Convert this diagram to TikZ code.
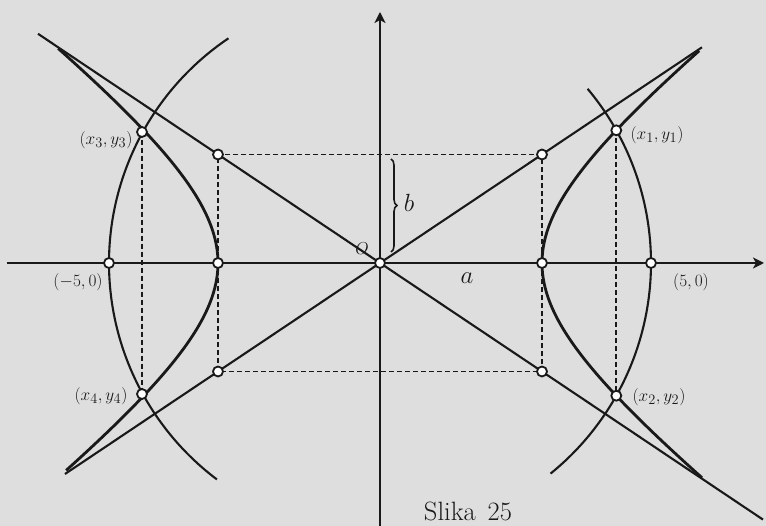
\documentclass[tikz,border=0pt]{standalone}
\usetikzlibrary{arrows.meta,decorations.pathreplacing}
\definecolor{paper}{RGB}{222,222,222}
\definecolor{ink}{RGB}{25,25,25}
\begin{document}
\begin{tikzpicture}[x=1pt,y=1pt,
  axis/.style={line width=2.8pt,draw=ink,-{Stealth[length=11pt,width=11pt,inset=3pt]}},
  branch/.style={line width=2.8pt,draw=ink},
  asym/.style={line width=2.1pt,draw=ink},
  arcl/.style={line width=2.1pt,draw=ink},
  guide/.style={line width=1.7pt,draw=ink,dash pattern=on 5pt off 3pt},
  dot/.style={circle,draw=ink,fill=white,line width=1.8pt,inner sep=0pt,minimum size=10pt},
  lab/.style={text=ink,font=\fontsize{19}{22}\selectfont},
  biglab/.style={text=ink,font=\fontsize{25}{28}\selectfont},
]
\fill[paper] (-380,-263) rectangle (386,263);
\useasboundingbox (-380,-263) rectangle (386,263);

% coordinates
\coordinate (O) at (0,0);
\coordinate (XL) at (-373,0);
\coordinate (XR) at (384,0);
\coordinate (YB) at (0,-263);
\coordinate (YT) at (0,251);
\coordinate (V1) at (162,0);
\coordinate (V2) at (-162,0);
\coordinate (F1) at (271,0);
\coordinate (F2) at (-271,0);
\coordinate (R1) at (162,108.5);
\coordinate (R2) at (-162,108.5);
\coordinate (R3) at (-162,-108.5);
\coordinate (R4) at (162,-108.5);
\coordinate (P1) at (236.3,132.7);
\coordinate (P2) at (236.3,-132.7);
\coordinate (P3) at (-238,131);
\coordinate (P4) at (-238,-131);
\coordinate (A1) at (-342,229.2);
\coordinate (A2) at (383,-256.6);
\coordinate (B1) at (-315,-211);
\coordinate (B2) at (322,215.7);

% dashed guides
\draw[guide] (R1) -- (R2) -- (R3) -- (R4) -- cycle;
\draw[guide] (P1) -- (P2);
\draw[guide] (P3) -- (P4);

% circle arcs (radius 271)
\draw[arcl] (O) ++(124:271) arc[start angle=124,end angle=233,radius=271];
\draw[arcl] (O) ++(-51:271) arc[start angle=-51,end angle=40,radius=271];

% hyperbola branches
\draw[branch] plot[domain=-1.31:1.30,samples=80,smooth] ({162*cosh(\x)},{125*sinh(\x)});
\draw[branch] plot[domain=-1.28:1.31,samples=80,smooth] ({-162*cosh(\x)},{125*sinh(\x)});

% asymptotes
\draw[asym] (A1) -- (A2);
\draw[asym] (B1) -- (B2);

% axes
\draw[axis] (XL) -- (XR);
\draw[axis] (YB) -- (YT);

% brace for b
\draw[line width=1.6pt,draw=ink,decorate,decoration={brace,amplitude=6pt}] (11,104) -- (11,11);

% points
\foreach \p in {O,V1,V2,F1,F2,R1,R2,R3,R4,P1,P2,P3,P4}
  \node[dot] (d\p) at (\p) {};

% labels
\node[lab] (l3) at (-274,123) {$(x_3,y_3)$};
\node[lab] (l4) at (-279,-133) {$(x_4,y_4)$};
\node[lab] (lm5) at (-302,-19) {$(-5,0)$};
\node[lab] (l1) at (277,128) {$(x_1,y_1)$};
\node[lab] (l2) at (279,-134) {$(x_2,y_2)$};
\node[lab] (l5) at (311,-19) {$(5,0)$};
\node[lab] (lO) at (-18,14) {$O$};
\node[biglab] (lb) at (29,60) {$b$};
\node[biglab] (la) at (87,-15) {$a$};
\node[text=ink,font=\fontsize{26.5}{30}\selectfont] (cap) at (88,-248) {Slika\hspace{0.45em}25};
\end{tikzpicture}
\end{document}
